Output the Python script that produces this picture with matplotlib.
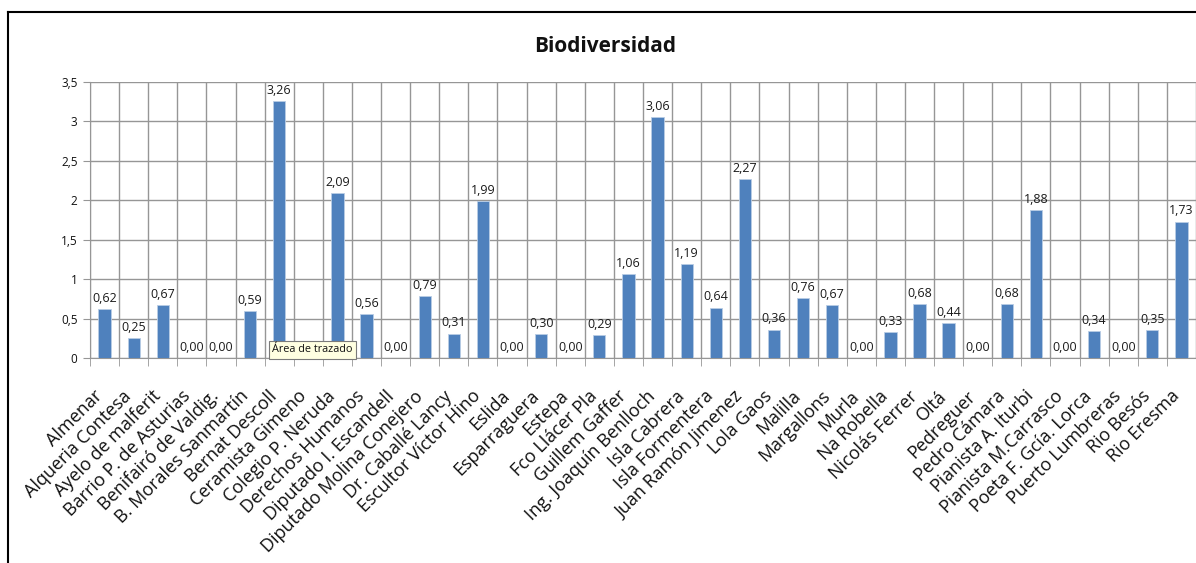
import matplotlib
matplotlib.use("Agg")
import matplotlib.pyplot as plt
from matplotlib.lines import Line2D
from matplotlib.transforms import ScaledTranslation

categories = [
    "Almenar", "Alqueria Contesa", "Ayelo de malferit", "Barrio P. de Asturias",
    "Benifairó de Valdig.", "B. Morales Sanmartín", "Bernat Descoll", "Ceramista Gimeno",
    "Colegio P. Neruda", "Derechos Humanos", "Diputado I. Escandell",
    "Diputado Molina Conejero", "Dr. Caballé Lancy", "Escultor Víctor Hino", "Eslida",
    "Esparraguera", "Estepa", "Fco Llácer Pla", "Guillem Gaffer", "Ing. Joaquín Benlloch",
    "Isla Cabrera", "Isla Formentera", "Juan Ramón Jimenez", "Lola Gaos", "Malilla",
    "Margallons", "Murla", "Na Robella", "Nicolás Ferrer", "Oltá", "Pedreguer",
    "Pedro Cámara", "Pianista A. Iturbi", "Pianista M.Carrasco", "Poeta F. Gcía. Lorca",
    "Puerto Lumbreras", "Rio Besós", "Rio Eresma",
]
values = [
    0.62, 0.25, 0.67, 0.00, 0.00, 0.59, 3.26, 0.00, 2.09, 0.56, 0.00, 0.79, 0.31,
    1.99, 0.00, 0.30, 0.00, 0.29, 1.06, 3.06, 1.19, 0.64, 2.27, 0.36, 0.76, 0.67,
    0.00, 0.33, 0.68, 0.44, 0.00, 0.68, 1.88, 0.00, 0.34, 0.00, 0.35, 1.73,
]
y_ticks = [0, 0.5, 1, 1.5, 2, 2.5, 3, 3.5]
y_tick_labels = ["0", "0,5", "1", "1,5", "2", "2,5", "3", "3,5"]
title = "Biodiversidad"

plt.rcParams['font.family'] = ['Open Sans', 'DejaVu Sans']

W, H = 1196, 563
fig = plt.figure(figsize=(W / 100, H / 100), dpi=100)
ax = fig.add_axes([90 / W, 1 - 358 / H, (1196 - 90) / W, (358 - 82) / H])

n = len(categories)
x = list(range(n))
ax.bar(x, values, width=0.42, color='#4F81BD', edgecolor='#B9CDE5', linewidth=0.6, zorder=3)

for xi, v in zip(x, values):
    ax.annotate(f"{v:.2f}".replace('.', ','), (xi, v), xytext=(0, 3),
                textcoords='offset points', ha='center', va='bottom',
                fontsize=9, color='#1a1a1a', zorder=4, annotation_clip=False)

ax.set_xlim(-0.5, n - 0.5)
ax.set_ylim(0, 3.5)
ax.set_yticks(y_ticks)
ax.set_yticklabels(y_tick_labels, fontsize=8.5, color='#111111')

# vertical gridlines at category boundaries
for b in range(n + 1):
    ax.axvline(b - 0.5, color='#969696', linewidth=1, zorder=1)
ax.yaxis.grid(True, color='#969696', linewidth=1, zorder=1)
ax.set_axisbelow(True)

ax.set_xticks([b - 0.5 for b in range(n + 1)], minor=True)
ax.set_xticks(x)
ax.set_xticklabels(categories, rotation=45, ha='right', va='top', rotation_mode='anchor',
                   fontsize=13, color='#111111')
ax.tick_params(axis='x', which='major', length=0, pad=21)
ax.tick_params(axis='x', which='minor', length=6, color='#969696', direction='out')
ax.tick_params(axis='y', length=5, color='#969696', direction='out', pad=4)
shift = ScaledTranslation(-11 / 100, 0, fig.dpi_scale_trans)
for lab in ax.get_xticklabels():
    lab.set_transform(lab.get_transform() + shift)

for s in ['top', 'right']:
    ax.spines[s].set_visible(False)
ax.spines['left'].set_color('#969696')
ax.spines['bottom'].set_color('#969696')

fig.text(605 / W, 1 - 47 / H, title, ha='center', va='center',
         fontsize=15, fontweight='bold', color='#111111')

# tooltip
fig.text(272 / W, 1 - 350 / H, "Área de trazado", ha='left', va='center', fontsize=7.8,
         color='#111111',
         bbox=dict(boxstyle='square,pad=0.3', facecolor='#FFFFE1', edgecolor='#7a7a7a',
                   linewidth=0.8), zorder=10)

# chart area frame
fig.add_artist(Line2D([8 / W, 8 / W], [0, 1 - 12 / H], transform=fig.transFigure,
                      color='black', linewidth=1.5))
fig.add_artist(Line2D([8 / W, 1], [1 - 12 / H, 1 - 12 / H], transform=fig.transFigure,
                      color='black', linewidth=1.5))

fig.savefig('out.png', dpi=100, facecolor='white')
